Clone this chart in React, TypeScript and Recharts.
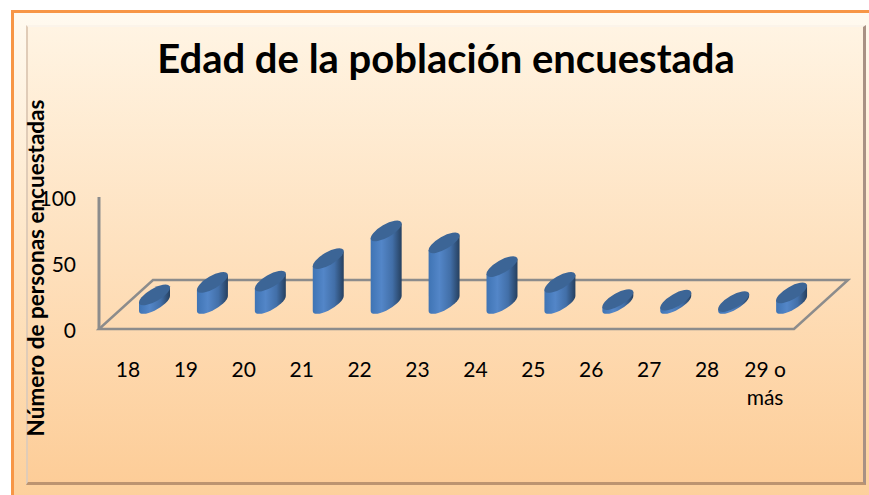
import { BarChart, Bar, XAxis, YAxis, usePlotArea } from "recharts";

const ages = ["18", "19", "20", "21", "22", "23", "24", "25", "26", "27", "28", "29 o más"];
const people = [6.5, 16, 17, 34, 55, 46, 28, 16, 3, 2.5, 1.5, 8];
const yTicks = [0, 50, 100];

const title = "Edad de la población encuestada";
const yTitle = "Número de personas encuestadas";

const FONT = "Lato, 'Open Sans', sans-serif";
const AXIS_GREY = "#8c8c8c";
const DEPTH_X = 54;
const DEPTH_Y = 49;

// Rotated ellipse used for the top and bottom of each cylinder
const RX = 17.5;
const RY = 6.4;
const TILT = (-30 * Math.PI) / 180;

function ellipseExtents() {
  const t = Math.atan2(-RY * Math.sin(TILT), RX * Math.cos(TILT));
  const dx = RX * Math.cos(t) * Math.cos(TILT) - RY * Math.sin(t) * Math.sin(TILT);
  const dy = RX * Math.cos(t) * Math.sin(TILT) + RY * Math.sin(t) * Math.cos(TILT);
  return { dx: Math.abs(dx), dy: dx > 0 ? dy : -dy };
}

function Cylinder(props: any) {
  const { x, y, width, height } = props;
  const { dx, dy } = ellipseExtents();
  // the bars stand part way into the floor, not on the front edge
  const cx = x + width / 2 + 27;
  const baseY = y + height - 25.5;
  const topY = baseY - height;
  const deg = (TILT * 180) / Math.PI;
  const body = [
    `M ${cx - dx} ${topY - dy}`,
    `L ${cx - dx} ${baseY - dy}`,
    `A ${RX} ${RY} ${deg} 0 0 ${cx + dx} ${baseY + dy}`,
    `L ${cx + dx} ${topY + dy}`,
    "Z",
  ].join(" ");
  return (
    <g>
      <path d={body} fill="url(#cylinderBody)" />
      <ellipse cx={cx} cy={topY} rx={RX} ry={RY} fill="#3c6596" transform={`rotate(${deg} ${cx} ${topY})`} />
    </g>
  );
}

function Floor() {
  const plot = usePlotArea();
  if (!plot) return null;
  const left = plot.x;
  const right = plot.x + plot.width;
  const bottom = plot.y + plot.height;
  const points = [
    [left, bottom],
    [right, bottom],
    [right + DEPTH_X, bottom - DEPTH_Y],
    [left + DEPTH_X, bottom - DEPTH_Y],
  ];
  return (
    <polygon
      points={points.map((p) => p.join(",")).join(" ")}
      fill="none"
      stroke={AXIS_GREY}
      strokeWidth={2.5}
    />
  );
}

function AgeTick(props: any) {
  const { x, y, payload } = props;
  const words = String(payload.value).split(" ");
  const lines = words.length > 1 ? [words.slice(0, 2).join(" "), words.slice(2).join(" ")] : words;
  return (
    <text x={x} y={y} textAnchor="middle" fontFamily={FONT} fontSize={21} fill="#000">
      {lines.map((line, i) => (
        <tspan key={line} x={x} dy={i === 0 ? 0 : 28}>
          {line}
        </tspan>
      ))}
    </text>
  );
}

export default function App() {
  const data = ages.map((age, i) => ({ age, people: people[i] }));
  return (
    <div
      style={{
        position: "absolute",
        left: 0,
        top: 0,
        width: 869,
        height: 495,
        background: "#fff",
        overflow: "hidden",
      }}
    >
      {/* outer frame */}
      <div
        style={{
          position: "absolute",
          left: 11,
          top: 10,
          width: 860,
          height: 490,
          boxSizing: "border-box",
          borderLeft: "3px solid #f79646",
          borderTop: "3px solid #f79646",
          background: "linear-gradient(#fffaf0, #fdd09b)",
        }}
      />
      {/* inner panel */}
      <div
        style={{
          position: "absolute",
          left: 26,
          top: 25,
          width: 840,
          height: 460,
          boxSizing: "border-box",
          borderLeft: "2px solid #e0ccb8",
          borderTop: "2px solid #fbf4ea",
          borderRight: "3px solid #a89184",
          borderBottom: "3px solid #bc9470",
          background: "linear-gradient(#fff4e3, #fdcd98)",
        }}
      />
      <BarChart
        width={869}
        height={495}
        data={data}
        margin={{ top: 197, right: 75, bottom: 106, left: 39 }}
        barSize={31}
        style={{ position: "absolute", left: 0, top: 0 }}
      >
        <defs>
          <linearGradient id="cylinderBody" x1="0" y1="0" x2="1" y2="0">
            <stop offset="0%" stopColor="#3f74b4" />
            <stop offset="35%" stopColor="#5386c8" />
            <stop offset="70%" stopColor="#426fa8" />
            <stop offset="100%" stopColor="#26405f" />
          </linearGradient>
        </defs>
        <Floor />
        <XAxis
          dataKey="age"
          axisLine={false}
          tickLine={false}
          interval={0}
          tick={<AgeTick />}
          tickMargin={42}
          height={60}
        />
        <YAxis
          type="number"
          domain={[0, 100]}
          ticks={yTicks}
          width={60}
          axisLine={{ stroke: AXIS_GREY, strokeWidth: 3 }}
          tickLine={false}
          tickMargin={17}
          tick={{ fontFamily: FONT, fontSize: 21, fill: "#000", dy: 2 }}
        />
        <Bar dataKey="people" isAnimationActive={false} shape={<Cylinder />} />
        <text
          x={446}
          y={73}
          textAnchor="middle"
          fontFamily={FONT}
          fontWeight={700}
          fontSize={40}
          fill="#000"
        >
          {title}
        </text>
        <text
          transform="translate(44 268) rotate(-90)"
          textAnchor="middle"
          fontFamily={FONT}
          fontWeight={700}
          fontSize={22.5}
          fill="#000"
        >
          {yTitle}
        </text>
      </BarChart>
    </div>
  );
}
